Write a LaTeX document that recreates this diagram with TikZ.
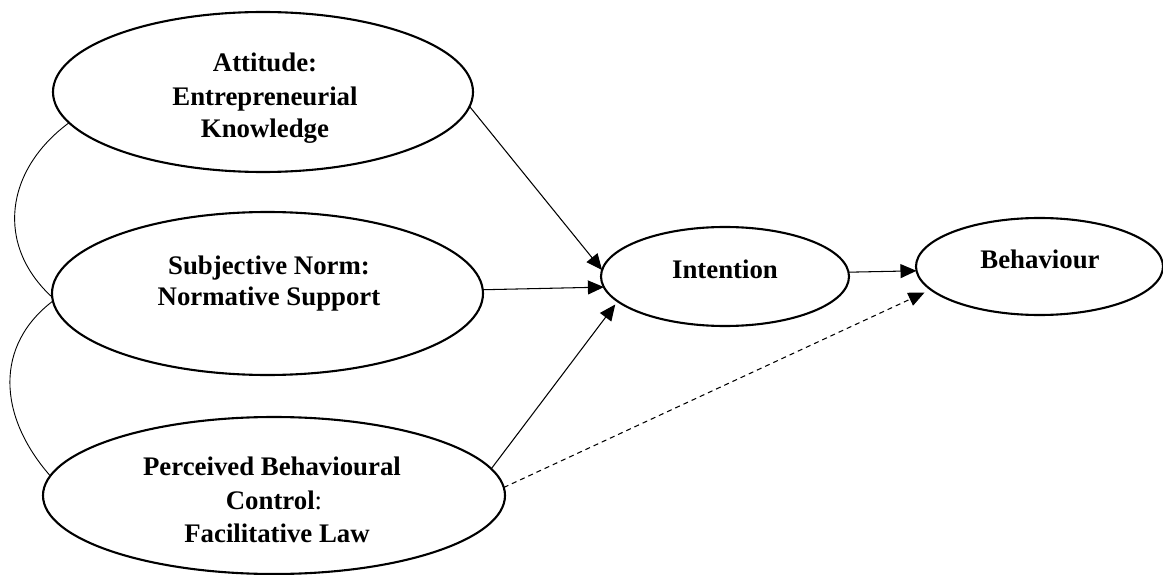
\documentclass[tikz,border=0pt]{standalone}
\usepackage{fontspec}
\setmainfont{Liberation Serif}
\usetikzlibrary{shapes.geometric,arrows.meta}
\begin{document}
\begin{tikzpicture}[x=1pt,y=-1pt,
  oval/.style={draw, ellipse, line width=2.1pt, inner sep=0pt, outer sep=0pt},
  lbl/.style={anchor=base, inner sep=0pt, font=\fontsize{26.8}{30}\selectfont\bfseries},
  conn/.style={line width=1.05pt, -{Triangle[length=16pt,width=14pt]}},
  dashconn/.style={conn, dash pattern=on 5pt off 4pt},
  link/.style={line width=0.9pt}]
\useasboundingbox (0,0) rectangle (1163,575);
% ovals
\node[oval, minimum width=420pt, minimum height=160pt] (att) at (263,92) {};
\node[oval, minimum width=431pt, minimum height=163pt] (sub) at (267.5,293.5) {};
\node[oval, minimum width=462pt, minimum height=157pt] (pbc) at (274,495.5) {};
\node[oval, minimum width=248pt, minimum height=99pt] (int) at (725,276.5) {};
\node[oval, minimum width=247pt, minimum height=97pt] (beh) at (1039.5,266.5) {};
% texts
\node[lbl] (att1) at (265,72) {Attitude:};
\node[lbl] (att2) at (265,106) {Entrepreneurial};
\node[lbl] (att3) at (265,138) {Knowledge};
\node[lbl] (sub1) at (269,274) {Subjective Norm:};
\node[lbl] (sub2) at (269,305) {Normative Support};
\node[lbl] (pbc1) at (272,475) {Perceived Behavioural};
\node[lbl] (pbc2) at (274,509) {Control\textmd{:}};
\node[lbl] (pbc3) at (277,542) {Facilitative Law};
\node[lbl] (int1) at (725,278) {Intention};
\node[lbl] (beh1) at (1040,269) {Behaviour};
% connectors
\draw[conn] (att.-4) -- (int.177);
\draw[conn] (sub.1.5) -- (int.185.5);
\draw[conn, shorten >=4pt] (pbc.7) -- (int.193);
\draw[conn] (int.2) -- (beh.182);
\draw[dashconn, shorten >=7pt] (pbc.2) -- (beh.192);
% correlation curves
\draw[link] (att.189) .. controls (5,170) and (-5,245) .. (sub.181);
\draw[link] (sub.182.5) .. controls (-5,345) and (-3,415) .. (pbc.175.5);
\end{tikzpicture}
\end{document}
